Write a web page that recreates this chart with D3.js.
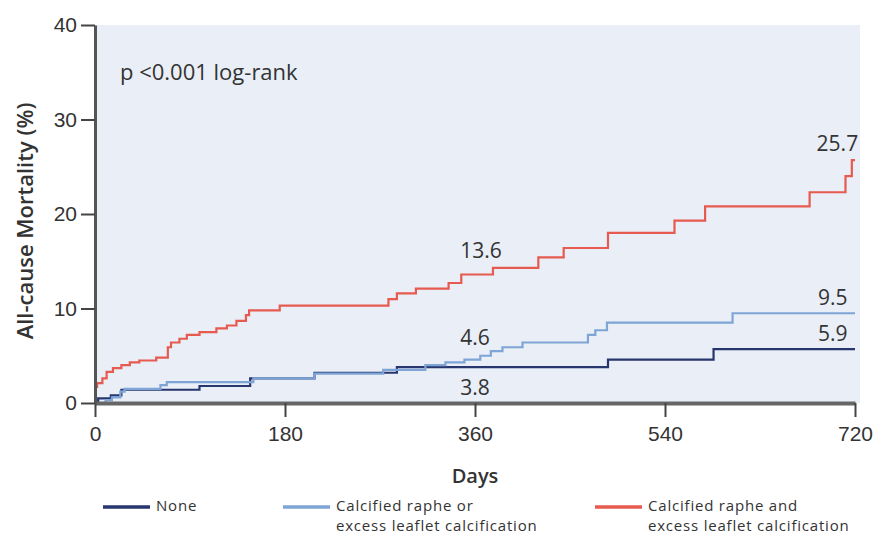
<!DOCTYPE html>
<html>
<head>
<meta charset="utf-8">
<script src="https://cdn.jsdelivr.net/npm/d3@7"></script>
<style>
  html, body { margin: 0; padding: 0; background: #ffffff; }
  svg { display: block; font-family: "Open Sans", "Noto Sans", sans-serif; }
</style>
</head>
<body>
<svg id="chart" width="883" height="536"></svg>
<script>
// ---- data ----
const seriesNames = ["None", "Calcified raphe or excess leaflet calcification", "Calcified raphe and excess leaflet calcification"];
const noneDays   = [0, 3, 15, 25, 99, 147, 208, 286, 486, 586, 720];
const noneVals   = [0, 0.5, 0.8, 1.4, 1.8, 2.6, 3.2, 3.8, 4.6, 5.7, 5.7];
const orDays     = [0, 10, 16, 24, 28, 62, 68, 150, 208, 273, 313, 332, 350, 365, 375, 386, 405, 467, 474, 485, 604, 720];
const orVals     = [0, 0.3, 0.6, 1.2, 1.5, 1.9, 2.2, 2.6, 3.1, 3.5, 4.0, 4.3, 4.6, 5.0, 5.5, 5.9, 6.4, 7.2, 7.7, 8.5, 9.5, 9.5];
const andDays    = [0, 2, 7, 11, 17, 25, 33, 42, 58, 69, 72, 80, 87, 99, 115, 125, 134, 143, 146, 175, 278, 286, 304, 335, 347, 377, 420, 444, 486, 549, 578, 677, 711, 717, 720];
const andVals    = [1.7, 2.1, 2.6, 3.3, 3.7, 4.0, 4.3, 4.5, 4.8, 5.9, 6.4, 6.8, 7.2, 7.5, 7.9, 8.2, 8.7, 9.3, 9.8, 10.3, 11.0, 11.6, 12.1, 12.7, 13.6, 14.3, 15.4, 16.4, 18.0, 19.3, 20.8, 22.3, 24.0, 25.7, 25.7];
const xTicks = [0, 180, 360, 540, 720];
const yTicks = [0, 10, 20, 30, 40];
const midLabels = ["13.6", "4.6", "3.8"];   // at 360 days: and, or, none
const endLabels = ["25.7", "9.5", "5.9"];   // at 720 days: and, or, none
const pText = "p <0.001 log-rank";
const xTitle = "Days";
const yTitle = "All-cause Mortality (%)";

const colors = ["#27366e", "#7ea5d6", "#e65a4f"];

// ---- drawing ----
const svg = d3.select("#chart");
const x = d3.scaleLinear().domain([0, 720]).range([95, 855]);
const y = d3.scaleLinear().domain([0, 40]).range([403, 25]);
const textCol = "#333333";

// plot background
svg.append("rect")
  .attr("x", x(0)).attr("y", y(40))
  .attr("width", x(720) - x(0) + 5).attr("height", y(0) - y(40))
  .attr("fill", "#e9eef7");

// curves
const line = d3.line().x(d => x(d[0])).y(d => y(d[1])).curve(d3.curveStepAfter);
const series = [
  d3.zip(noneDays, noneVals),
  d3.zip(orDays, orVals),
  d3.zip(andDays, andVals)
];
series.forEach((s, i) => {
  svg.append("path").datum(s)
    .attr("d", line)
    .attr("fill", "none")
    .attr("stroke", colors[i])
    .attr("stroke-width", 2.2);
});

// axes
const xAxis = svg.append("g").attr("transform", `translate(0,${y(0)})`)
  .call(d3.axisBottom(x).tickValues(xTicks).tickSize(14).tickPadding(9).tickSizeOuter(0));
xAxis.select(".domain").attr("stroke", "#666").attr("stroke-width", 4);
xAxis.selectAll(".tick line").attr("stroke", "#444").attr("stroke-width", 2);
xAxis.selectAll(".tick text").attr("fill", textCol).attr("font-size", 21);

const yAxis = svg.append("g").attr("transform", `translate(${x(0)},0)`)
  .call(d3.axisLeft(y).tickValues(yTicks).tickSize(14).tickPadding(4).tickSizeOuter(0));
yAxis.select(".domain").attr("stroke", "#555").attr("stroke-width", 3);
yAxis.selectAll(".tick line").attr("stroke", "#444").attr("stroke-width", 2);
yAxis.selectAll(".tick text").attr("fill", textCol).attr("font-size", 21);

// titles
svg.append("text")
  .attr("transform", `translate(33,${(y(0) + y(40)) / 2 + 7}) rotate(-90)`)
  .attr("text-anchor", "middle").attr("font-size", 22).attr("font-weight", 600)
  .attr("fill", textCol).text(yTitle);
svg.append("text")
  .attr("x", x(360)).attr("y", 483)
  .attr("text-anchor", "middle").attr("font-size", 20).attr("font-weight", 600)
  .attr("fill", textCol).text(xTitle);

svg.append("text")
  .attr("x", 120).attr("y", 80)
  .attr("font-size", 22).attr("fill", textCol).text(pText);

// value labels
const midVals = [15.3, 6.1, 0.8];
midLabels.forEach((t, i) => {
  svg.append("text").attr("x", x(346)).attr("y", y(midVals[i]))
    .attr("font-size", 21).attr("fill", textCol).text(t);
});
const endPos = [[723, 26.7], [713, 10.4], [713, 6.6]];
endLabels.forEach((t, i) => {
  svg.append("text").attr("x", x(endPos[i][0])).attr("y", y(endPos[i][1]))
    .attr("text-anchor", "end").attr("font-size", 21).attr("fill", textCol).text(t);
});

// legend
const legendItems = [
  { x: 103, lines: ["None"] },
  { x: 283, lines: ["Calcified raphe or", "excess leaflet calcification"] },
  { x: 595, lines: ["Calcified raphe and", "excess leaflet calcification"] }
];
legendItems.forEach((it, i) => {
  const g = svg.append("g");
  g.append("line").attr("x1", it.x).attr("x2", it.x + 47)
    .attr("y1", 507).attr("y2", 507)
    .attr("stroke", colors[i]).attr("stroke-width", 3.5);
  it.lines.forEach((l, j) => {
    g.append("text").attr("x", it.x + 53).attr("y", 511 + j * 20)
      .attr("font-size", 15).attr("letter-spacing", 0.8).attr("fill", textCol)
      .text(l);
  });
});
</script>
</body>
</html>
